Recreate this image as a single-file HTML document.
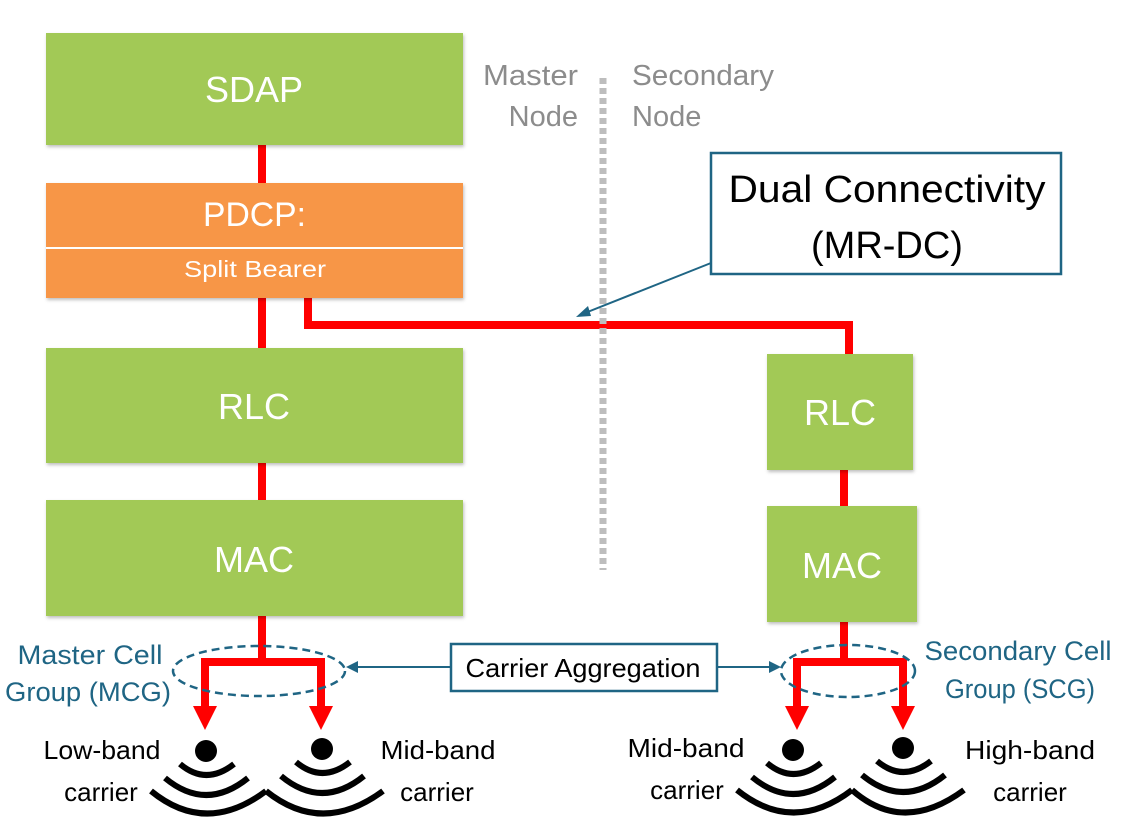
<!DOCTYPE html>
<html><head><meta charset="utf-8"><style>body{margin:0;background:#fff}svg{display:block}</style></head>
<body>
<svg width="1126" height="834" viewBox="0 0 1126 834" xmlns="http://www.w3.org/2000/svg" font-family="Liberation Sans, sans-serif">
<defs>
<filter id="sh" x="-5%" y="-5%" width="110%" height="115%"><feDropShadow dx="1" dy="2" stdDeviation="1.5" flood-color="#000" flood-opacity="0.25"/></filter>
</defs>
<g stroke="#ff0000" stroke-width="8" fill="none">
<line x1="262" y1="140" x2="262" y2="190"/>
<line x1="262" y1="295" x2="262" y2="352"/>
<line x1="262" y1="460" x2="262" y2="505"/>
<line x1="262" y1="612" x2="262" y2="662"/>
<polyline points="205,710 205,662 321,662 321,710"/>
<polyline points="308,295 308,325 849,325 849,358"/>
<line x1="844" y1="466" x2="844" y2="510"/>
<line x1="844" y1="618" x2="844" y2="662"/>
<polyline points="797,710 797,662 903,662 903,710"/>
</g>
<g fill="#ff0000">
<polygon points="193,706 217,706 205,730"/>
<polygon points="309,706 333,706 321,730"/>
<polygon points="785,706 809,706 797,730"/>
<polygon points="891,706 915,706 903,730"/>
</g>
<line x1="603" y1="78" x2="603" y2="570" stroke="#bdbdbd" stroke-width="7" stroke-dasharray="6,4"/>
<g filter="url(#sh)">
<rect x="46" y="33" width="417" height="112" fill="#a2c957"/>
<rect x="46" y="183" width="417" height="115" fill="#f79646"/>
<rect x="46" y="348" width="417" height="115" fill="#a2c957"/>
<rect x="46" y="500" width="417" height="116" fill="#a2c957"/>
<rect x="767" y="354" width="146" height="116" fill="#a2c957"/>
<rect x="767" y="506" width="150" height="116" fill="#a2c957"/>
</g>
<line x1="46" y1="248" x2="463" y2="248" stroke="#fff" stroke-width="2"/>
<g fill="#fff" text-anchor="middle" font-size="36">
<text x="254" y="102">SDAP</text>
<text x="203" y="226" font-size="34" text-anchor="start" textLength="103" lengthAdjust="spacingAndGlyphs">PDCP:</text>
<text x="255" y="277" font-size="23" textLength="142" lengthAdjust="spacingAndGlyphs">Split Bearer</text>
<text x="254" y="419">RLC</text>
<text x="254" y="572">MAC</text>
<text x="840" y="425">RLC</text>
<text x="842" y="578">MAC</text>
</g>
<g fill="#8c8c8c" font-size="29">
<text x="578" y="85" text-anchor="end" textLength="95" lengthAdjust="spacingAndGlyphs">Master</text>
<text x="578" y="126" text-anchor="end">Node</text>
<text x="632" y="85" textLength="142" lengthAdjust="spacingAndGlyphs">Secondary</text>
<text x="632" y="126">Node</text>
</g>
<rect x="711" y="153" width="350" height="121" fill="#fff" stroke="#1f6584" stroke-width="2.5"/>
<g font-size="38" text-anchor="middle" fill="#000">
<text x="887" y="202" textLength="317" lengthAdjust="spacingAndGlyphs">Dual Connectivity</text>
<text x="887" y="258">(MR-DC)</text>
</g>
<line x1="711" y1="263" x2="585" y2="313" stroke="#1f6584" stroke-width="2"/>
<polygon points="576,317 588,306 591,316" fill="#1f6584"/>
<ellipse cx="259" cy="671" rx="86" ry="25" fill="none" stroke="#1f6584" stroke-width="2.5" stroke-dasharray="8,5"/>
<ellipse cx="848" cy="671" rx="67" ry="26" fill="none" stroke="#1f6584" stroke-width="2.5" stroke-dasharray="8,5"/>
<rect x="451" y="644" width="266" height="47" fill="#fff" stroke="#1f6584" stroke-width="2.5"/>
<text x="583" y="677" font-size="26" text-anchor="middle" textLength="235" lengthAdjust="spacingAndGlyphs">Carrier Aggregation</text>
<g stroke="#1f6584" stroke-width="2"><line x1="451" y1="667" x2="356" y2="667"/><line x1="717" y1="667" x2="770" y2="667"/></g>
<polygon points="346,667 358,661 358,673" fill="#1f6584"/>
<polygon points="781,667 769,661 769,673" fill="#1f6584"/>
<g fill="#1f6584" font-size="27">
<text x="90" y="664" text-anchor="middle" textLength="145" lengthAdjust="spacingAndGlyphs">Master Cell</text>
<text x="88" y="701" text-anchor="middle" textLength="166" lengthAdjust="spacingAndGlyphs">Group (MCG)</text>
<text x="1018" y="660" text-anchor="middle" textLength="187" lengthAdjust="spacingAndGlyphs">Secondary Cell</text>
<text x="1020" y="698" text-anchor="middle" textLength="150" lengthAdjust="spacingAndGlyphs">Group (SCG)</text>
</g>
<g fill="#000"><circle cx="206" cy="751" r="11"/><circle cx="322" cy="749" r="11"/><circle cx="793" cy="750" r="11"/><circle cx="903" cy="748" r="11"/></g>
<g stroke="#000" stroke-width="6" fill="none">
<path d="M180,764 Q206,786 234,764"/><path d="M165,778 Q206,812 248,778"/><path d="M151,791 Q206,836 266,791"/>
<path d="M296,762 Q322,784 350,762"/><path d="M281,776 Q322,810 364,776"/><path d="M266,791 Q322,836 383,791"/>
<path d="M767,763 Q793,785 821,763"/><path d="M752,777 Q793,811 835,777"/><path d="M737,790 Q793,835 852,790"/>
<path d="M877,761 Q903,783 931,761"/><path d="M862,775 Q903,809 945,775"/><path d="M852,790 Q903,835 964,790"/>
</g>
<g font-size="26" fill="#000" text-anchor="middle">
<text x="102" y="759" textLength="117" lengthAdjust="spacingAndGlyphs">Low-band</text><text x="101" y="801">carrier</text>
<text x="438" y="759" textLength="115" lengthAdjust="spacingAndGlyphs">Mid-band</text><text x="437" y="801">carrier</text>
<text x="686" y="757" textLength="117" lengthAdjust="spacingAndGlyphs">Mid-band</text><text x="687" y="799">carrier</text>
<text x="1030" y="759" textLength="130" lengthAdjust="spacingAndGlyphs">High-band</text><text x="1030" y="801">carrier</text>
</g>
</svg>
</body></html>
